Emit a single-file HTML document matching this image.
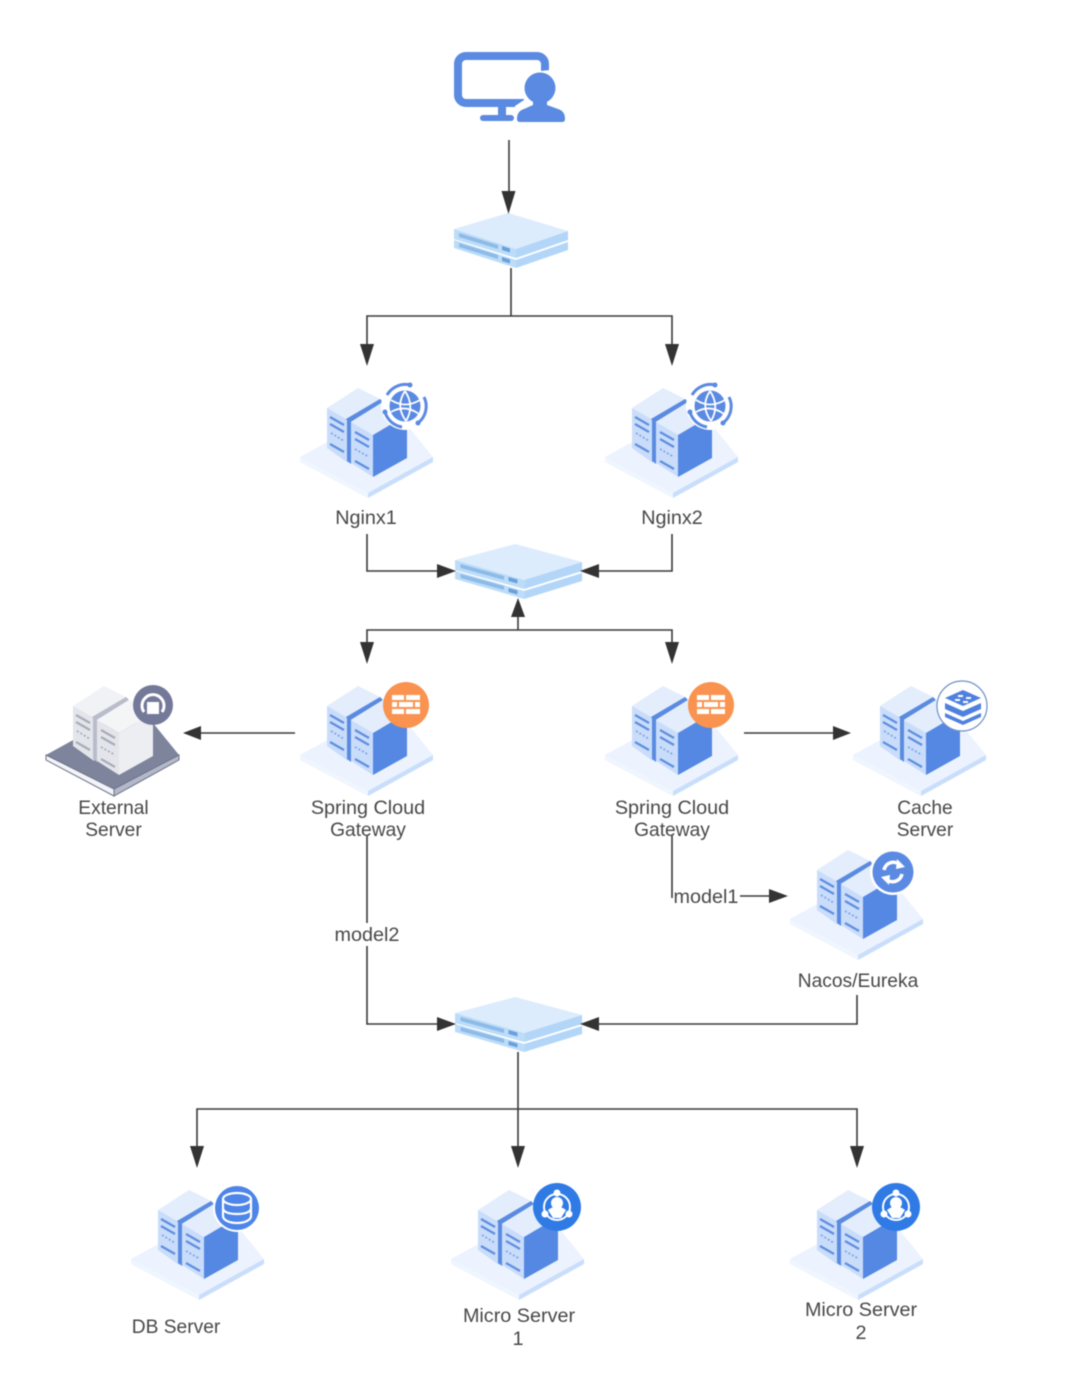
<!DOCTYPE html>
<html>
<head>
<meta charset="utf-8">
<style>
html,body{margin:0;padding:0;background:#fff}
svg{display:block;filter:blur(.45px)}
text{font-family:"Liberation Sans",sans-serif;font-size:19.8px;fill:#484848;text-anchor:middle}
text.s{font-size:19.2px}
.l{fill:none;stroke:#3a3a3a;stroke-width:1.6}
.a{fill:#333}
</style>
</head>
<body>
<svg width="1080" height="1385" viewBox="0 0 1080 1385" xmlns="http://www.w3.org/2000/svg">
<defs>
<g id="srv">
  <path d="M300 457 L358 425 L407 425 L433 457 L433 462 L368 498 L300 462Z" fill="#ecf3fe"/>
  <path d="M300 457 L368 493 L368 498 L300 462Z" fill="#f0f6fe"/>
  <path d="M368 493 L433 457 L433 462 L368 498Z" fill="#c9defb"/>
  <path d="M327 408 L358 388 L382 400 L348 420Z" fill="#e3edfc"/>
  <path d="M327 408 L348 420 L348 463 L327 448Z" fill="#c9dcfa"/>
  <path d="M346 419 L349 423 L383 402 L380 399Z" fill="#5a8be0"/>
  <path d="M347 420 L351 422 L351 464 L347 461Z" fill="#5a8be0"/>
  <path d="M351 422 L383 402 L407 415 L373 435Z" fill="#e3edfc"/>
  <path d="M351 422 L373 435 L373 477 L351 463Z" fill="#c9dcfa"/>
  <path d="M373 435 L407 415 L407 458 L373 477Z" fill="#5588e3"/>
  <path d="M330 417l14 8M330 424l14 8M330 444l14 8M355 432l14 8M355 439l14 8M355 461l14 8" stroke="#5f8fe0" stroke-width="2.200" fill="none"/>
  <path d="M331 433l13 8M355 449l14 8" stroke="#7fa6e8" stroke-width="1.800" stroke-dasharray="2 2" fill="none"/>
</g>
<g id="srvg">
  <path d="M300 457 L358 425 L407 425 L433 457 L433 462 L368 498 L300 462Z" fill="#7d849b"/>
  <path d="M300 457 L368 491 L368 498 L300 462Z" fill="#f3f4f7" stroke="#6d748c" stroke-width="1"/>
  <path d="M368 491 L433 457 L433 462 L368 498Z" fill="#b4b9c9" stroke="#6d748c" stroke-width="1"/>
  <path d="M327 408 L358 388 L382 400 L348 420Z" fill="#f1f2f5"/>
  <path d="M327 408 L348 420 L348 463 L327 448Z" fill="#e3e5ea"/>
  <path d="M346 419 L349 423 L383 402 L380 399Z" fill="#b9bdcb"/>
  <path d="M347 420 L351 422 L351 464 L347 461Z" fill="#b9bdcb"/>
  <path d="M351 422 L383 402 L407 415 L373 435Z" fill="#f4f5f7"/>
  <path d="M351 422 L373 435 L373 477 L351 463Z" fill="#e3e5ea"/>
  <path d="M373 435 L407 415 L407 458 L373 477Z" fill="#eceef2"/>
  <path d="M330 417l14 8M330 424l14 8M330 444l14 8M355 432l14 8M355 439l14 8M355 461l14 8" stroke="#a9adba" stroke-width="2.200" fill="none"/>
  <path d="M331 433l13 8M355 449l14 8" stroke="#a9adba" stroke-width="1.800" stroke-dasharray="2 2" fill="none"/>
</g>
<g id="sw">
  <path d="M0 16 L54 0 L114 18 L62 36Z" fill="#dcecfd"/>
  <path d="M0 16 L62 36 L62 45 L0 26Z" fill="#bcdcf8"/>
  <path d="M62 36 L114 18 L114 27 L62 45Z" fill="#b3d6f8"/>
  <path d="M0 27 L62 47 L62 55 L0 35Z" fill="#bcdcf8"/>
  <path d="M62 47 L114 29 L114 37 L62 55Z" fill="#b3d6f8"/>
  <path d="M5 20 L44 32 V36 L5 24Z M5 30 L44 42 V46 L5 34Z" fill="#8dbbe8"/>
  <path d="M48 33l8 2.500v4l-8-2.500zM48 44l8 2.500v4l-8-2.500z" fill="#6aa0dc"/>
</g>
<g id="globe">
  <circle cx="405" cy="406" r="24" fill="#fff"/>
  <circle cx="405" cy="406" r="15.500" fill="#5b8ae2"/>
  <path d="M391 400Q405 409 420 400M391 412Q405 404 419 414M405 391Q395 406 406 421M405 391Q415 406 406 421" stroke="#fff" stroke-width="1.800" fill="none"/>
  <path d="M387 395A21 21 0 0 1 410 385M424 397A21 21 0 0 1 418 423M402 427A21 21 0 0 1 385 412" stroke="#5b8ae2" stroke-width="3" fill="none"/>
  <circle cx="410" cy="385" r="2.500" fill="#5b8ae2"/><circle cx="418" cy="423" r="2.500" fill="#5b8ae2"/><circle cx="385" cy="412" r="2.500" fill="#5b8ae2"/>
</g>
<g id="fw">
  <circle cx="406" cy="407" r="23" fill="#f9934f"/>
  <g fill="#fff">
    <rect x="392" y="397" width="12" height="5"/><rect x="406" y="397" width="14" height="5"/>
    <rect x="392" y="404" width="5" height="5"/><rect x="399" y="404" width="14" height="5"/><rect x="415" y="404" width="5" height="5"/>
    <rect x="392" y="411" width="12" height="5"/><rect x="406" y="411" width="14" height="5"/>
  </g>
</g>
<g id="mc">
  <circle cx="557" cy="1207" r="24" fill="#2f7ae5"/>
  <circle cx="557" cy="1207" r="13" fill="none" stroke="#fff" stroke-width="2"/>
  <circle cx="557" cy="1193" r="3.500" fill="#fff"/>
  <circle cx="545" cy="1214" r="3.500" fill="#fff"/>
  <circle cx="569" cy="1214" r="3.500" fill="#fff"/>
  <circle cx="557" cy="1203" r="6" fill="#fff"/>
  <path d="M548 1210Q557 1203 566 1210L561 1218H553Z" fill="#fff"/>
</g>
</defs>

<rect width="1080" height="1385" fill="#fff"/>

<!-- monitor + user -->
<rect x="458" y="56" width="87" height="47" rx="8" fill="none" stroke="#5b8ae2" stroke-width="8"/>
<rect x="498" y="106" width="8" height="10" fill="#5b8ae2"/>
<rect x="480" y="115" width="34" height="6" rx="3" fill="#5b8ae2"/>
<path d="M515 125 L515 106 L524 100 L522 73 L550 70 L570 125Z" fill="#fff"/>
<circle cx="540" cy="88" r="15.500" fill="#5b8ae2"/>
<path d="M517 119 Q517 111 524 109 L533 105 L533 98 L547 98 L547 105 L558 109 Q565 111 565 119 Q565 122 562 122 L520 122 Q517 122 517 119Z" fill="#5b8ae2"/>

<!-- switches -->
<use href="#sw" x="454" y="213"/>
<use href="#sw" transform="translate(455 544) scale(1.115 1)"/>
<use href="#sw" transform="translate(455 997) scale(1.115 1)"/>

<!-- connectors -->
<path class="l" d="M509 140V195"/>
<path class="a" d="M501.500 191H515.500L508.500 214Z"/>
<path class="l" d="M511 268V316M367 347V316H672V347"/>
<path class="a" d="M360 344H374L367 366Z"/>
<path class="a" d="M665 344H679L672 366Z"/>
<path class="l" d="M367 534V571H440"/>
<path class="a" d="M437 564V578L456 571Z"/>
<path class="l" d="M672 534V571H596"/>
<path class="a" d="M599 564V578L580 571Z"/>
<path class="l" d="M518 630V612"/>
<path class="a" d="M511 617H525L518 598Z"/>
<path class="l" d="M367 645V630H672V645"/>
<path class="a" d="M360 642H374L367 664Z"/>
<path class="a" d="M665 642H679L672 664Z"/>
<path class="l" d="M295 733H198"/>
<path class="a" d="M201 726V740L183 733Z"/>
<path class="l" d="M744 733H836"/>
<path class="a" d="M833 726V740L851 733Z"/>
<path class="l" d="M367 835V1024H440"/>
<path class="a" d="M437 1017V1031L456 1024Z"/>
<path class="l" d="M672 835V898"/>
<path class="l" d="M740 896H772"/>
<path class="a" d="M769 889V903L788 896Z"/>
<path class="l" d="M857 995V1024H596"/>
<path class="a" d="M599 1017V1031L580 1024Z"/>
<path class="l" d="M518 1052V1150M197 1150V1109H857V1150"/>
<path class="a" d="M190 1146H204L197 1168Z"/>
<path class="a" d="M511 1146H525L518 1168Z"/>
<path class="a" d="M850 1146H864L857 1168Z"/>

<!-- servers -->
<use href="#srv"/>
<use href="#srv" x="305"/>
<use href="#srv" y="298"/>
<use href="#srv" x="305" y="298"/>
<use href="#srv" x="553" y="298"/>
<use href="#srvg" x="-254" y="298"/>
<use href="#srv" x="490" y="462"/>
<use href="#srv" x="-169" y="802"/>
<use href="#srv" x="151" y="802"/>
<use href="#srv" x="490" y="802"/>

<!-- badges -->
<use href="#globe"/>
<use href="#globe" x="305"/>
<use href="#fw" y="298"/>
<use href="#fw" x="305" y="298"/>

<circle cx="153" cy="705" r="20" fill="#74799a"/>
<path d="M144 712A11 11 0 1 1 162 712" fill="none" stroke="#fff" stroke-width="3"/>
<rect x="147" y="702" width="12" height="12" fill="#fff"/>

<circle cx="962" cy="706" r="25" fill="#fff" stroke="#6f8fc9" stroke-width="1.200"/>
<path d="M945 698L963 690L981 698L963 706Z" fill="#4f80e0"/>
<path d="M945 703L963 711L981 703V709L963 717L945 709Z" fill="#4f80e0"/>
<path d="M945 713L963 721L981 713V717L963 725L945 717Z" fill="#4f80e0"/>
<path d="M958 695h5v2h-5zM966 697h5v2h-5zM955 699h5v2h-5zM963 701h5v2h-5z" fill="#fff"/>

<circle cx="893" cy="872" r="23" fill="#fff"/>
<circle cx="893" cy="872" r="20.500" fill="#5b8ae2"/>
<path d="M884 870A9.500 9.500 0 0 1 900 865M902 874A9.500 9.500 0 0 1 886 879" fill="none" stroke="#fff" stroke-width="3.500"/>
<path d="M897 859L905 867L896 869Z M889 885L881 877L890 875Z" fill="#fff"/>

<circle cx="237" cy="1208" r="24" fill="#fff"/>
<circle cx="237" cy="1208" r="22" fill="#4d85e8"/>
<g fill="none" stroke="#fff" stroke-width="2.200">
  <ellipse cx="237" cy="1199" rx="14" ry="6"/>
  <path d="M223 1199V1216C223 1220 229 1223 237 1223C245 1223 251 1220 251 1216V1199M223 1208C223 1212 229 1214 237 1214C245 1214 251 1212 251 1208"/>
</g>

<use href="#mc"/>
<use href="#mc" x="339"/>

<!-- labels -->
<text x="366" y="524">Nginx1</text>
<text x="672" y="524">Nginx2</text>
<text class="s" x="113.500" y="814">External</text>
<text class="s" x="113.500" y="836">Server</text>
<text x="368" y="814">Spring Cloud</text>
<text class="s" x="368" y="836">Gateway</text>
<text x="672" y="814">Spring Cloud</text>
<text class="s" x="672" y="836">Gateway</text>
<text class="s" x="925" y="814">Cache</text>
<text class="s" x="925" y="836">Server</text>
<rect x="332" y="923" width="70" height="23" fill="#fff"/>
<text x="367" y="941">model2</text>
<text x="706" y="903">model1</text>
<text class="s" x="858" y="987">Nacos/Eureka</text>
<text class="s" x="176" y="1333">DB Server</text>
<text x="519" y="1322">Micro Server</text>
<text x="518" y="1345">1</text>
<text x="861" y="1316">Micro Server</text>
<text x="861" y="1339">2</text>
</svg>
</body>
</html>
